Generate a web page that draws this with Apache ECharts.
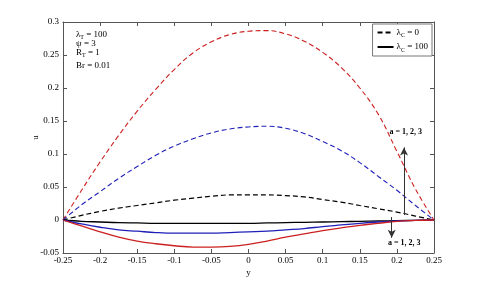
<!DOCTYPE html>
<html><head><meta charset="utf-8">
<script src="https://cdn.jsdelivr.net/npm/echarts@6/dist/echarts.min.js"></script>
<style>html,body{margin:0;padding:0;background:#fff}#c{width:480px;height:285px}</style>
</head><body><div id="c"></div>
<script>
const yPos = [-0.25,-0.225,-0.2,-0.175,-0.15,-0.125,-0.1,-0.075,-0.05,-0.025,0,0.025,0.05,0.075,0.1,0.125,0.15,0.175,0.2,0.225,0.25];
const redDashed   = [0,0.045,0.088,0.128,0.165,0.198,0.228,0.253,0.270,0.281,0.286,0.287,0.282,0.271,0.254,0.231,0.200,0.160,0.104,0.047,0];
const blueDashed  = [0,0.023,0.043,0.063,0.081,0.098,0.112,0.123,0.132,0.138,0.141,0.142,0.139,0.131,0.119,0.105,0.087,0.066,0.045,0.022,0];
const blackDashed = [0,0.007,0.013,0.018,0.022,0.026,0.030,0.033,0.036,0.038,0.038,0.038,0.037,0.035,0.031,0.027,0.022,0.017,0.012,0.006,0];
const blackSolid  = [0,-0.002,-0.003,-0.004,-0.0045,-0.005,-0.005,-0.005,-0.005,-0.005,-0.005,-0.0045,-0.004,-0.0035,-0.003,-0.0025,-0.002,-0.0015,-0.001,-0.0005,0];
const blueSolid   = [0,-0.006,-0.011,-0.015,-0.017,-0.019,-0.020,-0.020,-0.020,-0.019,-0.018,-0.017,-0.015,-0.013,-0.010,-0.0075,-0.005,-0.003,-0.0015,-0.0005,0];
const redSolid    = [0,-0.009,-0.018,-0.026,-0.032,-0.036,-0.039,-0.041,-0.041,-0.040,-0.037,-0.032,-0.026,-0.021,-0.016,-0.012,-0.008,-0.005,-0.002,-0.0007,0];
const paramLines = ['λ{s|T} = 100','ψ = 3','R{s|T} = 1','Br = 0.01'];
const arrowLabel = 'a = 1, 2, 3';

const FONT = 'Liberation Serif';
const pair = arr => yPos.map((x,i)=>[x,arr[i]]);
const RED = '#cc2020', BLUE = '#2020b8', BLACK = '#000';
function line(name, data, color, dashed, width){
  return {name, type:'line', data:pair(data), symbol:'none', smooth:0.4, silent:true,
    lineStyle:{color, width:width||1.1, type: dashed?[5,3]:'solid'}, itemStyle:{color}, z:2};
}
const chart = echarts.init(document.getElementById('c'), null, {renderer:'canvas'});
const axisCommon = {
  min:-0.25, max:0.25, interval:0.05,
  axisLine:{onZero:false, lineStyle:{color:'#555', width:1}},
  axisTick:{inside:true, length:4, lineStyle:{color:'#555'}},
  splitLine:{show:false}
};
chart.setOption({
  animation:false,
  backgroundColor:'#fff',
  grid:{left:63, right:46, top:22, bottom:32, containLabel:false},
  legend:{
    right:48, top:24, orient:'vertical', itemWidth:16, itemHeight:8, itemGap:4,
    padding:[4,4,3,4], borderColor:'#777', borderWidth:1, backgroundColor:'#fff',
    itemStyle:{opacity:0},
    data:[{name:'λ{s|C} = 0'},{name:'λ{s|C} = 100'}],
    textStyle:{fontFamily:FONT, fontSize:9, color:'#000', padding:[0,0,0,-2],
      rich:{s:{fontFamily:FONT, fontSize:6, padding:[6,0,0,0]}}}
  },
  xAxis:[
    Object.assign({type:'value', position:'bottom', name:'y', nameLocation:'middle', nameGap:15,
      nameMoveOverlap:false,
      nameTextStyle:{fontFamily:FONT, fontSize:9, color:'#000'},
      axisLabel:{fontFamily:FONT, fontSize:9, color:'#000', margin:3}}, axisCommon),
    Object.assign({type:'value', position:'top', axisLabel:{show:false}}, axisCommon)
  ],
  yAxis:[
    {type:'value', position:'left', min:-0.05, max:0.3, interval:0.05,
      name:'u', nameLocation:'middle', nameGap:23, nameRotate:90, nameMoveOverlap:false,
      nameTextStyle:{fontFamily:FONT, fontSize:9, color:'#000'},
      axisLine:{show:true, onZero:false, lineStyle:{color:'#555'}},
      axisTick:{show:true, inside:true, length:4, lineStyle:{color:'#555'}},
      axisLabel:{fontFamily:FONT, fontSize:9, color:'#000', margin:4},
      splitLine:{show:false}},
    {type:'value', position:'right', min:-0.05, max:0.3, interval:0.05,
      axisLine:{show:true, onZero:false, lineStyle:{color:'#555'}},
      axisTick:{show:true, inside:true, length:4, lineStyle:{color:'#555'}},
      axisLabel:{show:false}, splitLine:{show:false}}
  ],
  series:[
    line('redD', redDashed, RED, true),
    line('blueD', blueDashed, BLUE, true),
    line('λ{s|C} = 0', blackDashed, BLACK, true, 1.2),
    line('λ{s|C} = 100', blackSolid, BLACK, false, 1.3),
    line('blueS', blueSolid, BLUE, false, 1.3),
    line('redS', redSolid, RED, false, 1.3),
    {type:'line', data:[], silent:true,
     markLine:{silent:true, symbol:['none','arrow'], symbolSize:[6,8], label:{show:false},
       lineStyle:{color:'#333', width:1, type:'solid'},
       data:[
         [{coord:[0.2096,0.0076]},{coord:[0.2096,0.110]}],
         [{coord:[0.193,0.0045]},{coord:[0.193,-0.027]}]
       ]}}
  ]
});
const gtxt = [];
const p0 = chart.convertToPixel({gridIndex:0},[-0.25,0.3]);
paramLines.forEach((t,i)=>{
  gtxt.push({type:'text', left:p0[0]+13, top:p0[1]+[8,17,26,39][i], z:10,
    style:{text:t, font:'9px '+FONT, fill:'#000',
      rich:{s:{fontFamily:FONT, fontSize:6, padding:[6,0,0,0], fill:'#000'}}}});
});
const a1 = chart.convertToPixel({gridIndex:0},[0.212,0.133]);
const a2 = chart.convertToPixel({gridIndex:0},[0.21,-0.035]);
[a1,a2].forEach(p=>{
  gtxt.push({type:'text', x:p[0], y:p[1], z:10,
    style:{text:arrowLabel, font:'bold 8px '+FONT, fill:'#000', align:'center', verticalAlign:'middle'}});
});
chart.setOption({graphic:gtxt});
</script></body></html>
